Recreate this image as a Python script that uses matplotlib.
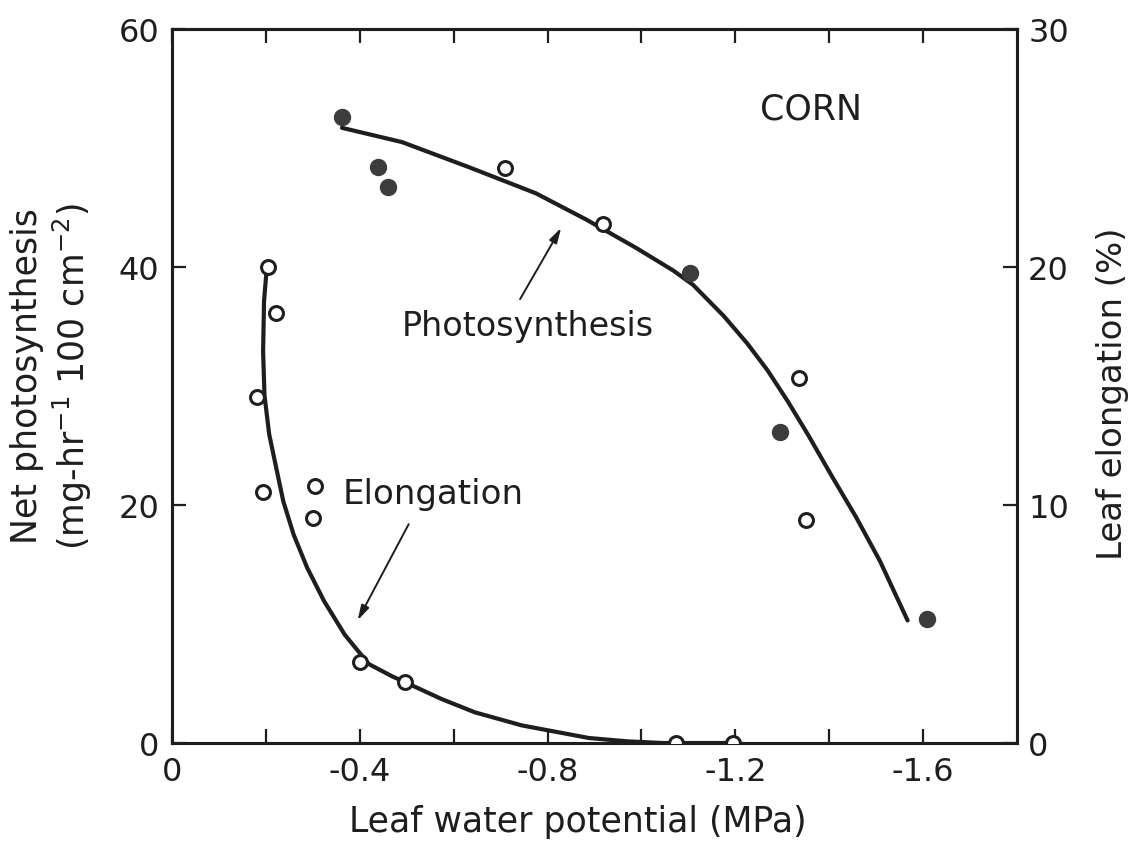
import matplotlib.pyplot as plt

plt.rcParams['font.family'] = ['DejaVu Sans']
plt.rcParams['axes.unicode_minus'] = False

# leaf water potential (MPa) vs net photosynthesis (left axis)
photo_filled_x = [-0.363, -0.439, -0.461, -1.103, -1.295, -1.609]
photo_filled_y = [52.6, 48.4, 46.7, 39.5, 26.1, 10.4]
photo_open_x = [-0.710, -0.919, -1.336, -1.351]
photo_open_y = [48.3, 43.6, 30.7, 18.7]
# fitted curve
photo_curve_x = [-0.362, -0.490, -0.632, -0.775, -0.882, -0.989, -1.068, -1.110,
                 -1.175, -1.225, -1.269, -1.312, -1.355, -1.406, -1.457, -1.508, -1.567]
photo_curve_y = [51.7, 50.5, 48.4, 46.2, 44.0, 41.6, 39.7, 38.5,
                 35.9, 33.6, 31.3, 28.7, 25.9, 22.4, 19.0, 15.3, 10.3]

# leaf elongation (%) (right axis)
elong_x = [-0.204, -0.221, -0.181, -0.194, -0.304, -0.301, -0.401, -0.497, -1.074, -1.196]
elong_y = [20.0, 18.05, 14.55, 10.55, 10.8, 9.45, 3.4, 2.57, 0.0, 0.0]
elong_curve_x = [-0.202, -0.196, -0.194, -0.197, -0.207, -0.222, -0.237, -0.259,
                 -0.288, -0.324, -0.368, -0.419, -0.469, -0.497, -0.574, -0.645,
                 -0.745, -0.888, -0.97, -1.044, -1.074, -1.196]
elong_curve_y = [20.0, 18.57, 16.45, 14.6, 12.97, 11.56, 10.16, 8.76,
                 7.36, 5.96, 4.55, 3.32, 2.8, 2.55, 1.85, 1.29,
                 0.74, 0.21, 0.07, 0.0, 0.0, 0.0]

xticks = [0, -0.4, -0.8, -1.2, -1.6]
xtick_labels = ['0', '-0.4', '-0.8', '-1.2', '-1.6']
xminor = [-0.2, -0.6, -1.0, -1.4]
left_ticks = [0, 20, 40, 60]
right_ticks = [0, 10, 20, 30]

ink = '#1e1e1e'
dot = '#3c3c3c'

fig = plt.figure(figsize=(11.34, 8.54), dpi=100)
ax = fig.add_axes([0.1517, 0.1288, 0.7451, 0.836])
ax2 = ax.twinx()

ax.plot(photo_curve_x, photo_curve_y, color=ink, lw=3.0, zorder=2,
        solid_capstyle='round', solid_joinstyle='round')
ax.plot(photo_filled_x, photo_filled_y, 'o', ms=11.5, color=dot, mec=dot, zorder=3)
ax.plot(photo_open_x, photo_open_y, 'o', ms=10, mfc='white', mec=ink, mew=2.2, zorder=3)

ax2.plot(elong_curve_x, elong_curve_y, color=ink, lw=3.0, zorder=2,
         solid_capstyle='round', solid_joinstyle='round')
ax2.plot(elong_x, elong_y, 'o', ms=10, mfc='white', mec=ink, mew=2.2, zorder=3)

ax.set_xlim(0, -1.8)
ax.set_ylim(0, 60)
ax2.set_ylim(0, 30)

ax.set_xticks(xticks)
ax.set_xticklabels(xtick_labels)
ax.set_xticks(xminor, minor=True)
ax.set_yticks(left_ticks)
ax2.set_yticks(right_ticks)

ax.tick_params(axis='both', which='both', direction='in', length=10, width=1.6,
               labelsize=23, pad=9, top=True, colors=ink)
ax2.tick_params(axis='y', direction='in', length=10, width=1.6, labelsize=23,
                pad=8, colors=ink)
for a in (ax, ax2):
    for s in a.spines.values():
        s.set_linewidth(2.2)
        s.set_color(ink)

ax.set_xlabel('Leaf water potential (MPa)', fontsize=25, labelpad=14, color=ink)
ax.xaxis.set_label_coords(0.48, -0.085)
ax.xaxis.label.set_va('top')
ax.set_ylabel('Net photosynthesis\n(mg-hr$^{-1}$ 100 cm$^{-2}$)', fontsize=25,
              color=ink, linespacing=1.2)
ax.yaxis.set_label_coords(-0.092, 0.515)
ax2.set_ylabel('Leaf elongation (%)', fontsize=24.5, color=ink)
ax2.yaxis.set_label_coords(1.094, 0.49)

ax.text(-1.362, 53.3, 'CORN', fontsize=25, ha='center', va='center', color=ink)
ax.text(-0.757, 35.1, 'Photosynthesis', fontsize=24, ha='center', va='center', color=ink)
ax.text(-0.557, 21.0, 'Elongation', fontsize=24.5, ha='center', va='center', color=ink)

arrow = dict(arrowstyle='-|>,head_length=0.9,head_width=0.25', color=ink, lw=1.4)
ax.annotate('', xy=(-0.832, 43.5), xytext=(-0.7385, 37.1), arrowprops=arrow)
ax.annotate('', xy=(-0.3926, 10.1), xytext=(-0.507, 18.6), arrowprops=arrow)

fig.savefig('out.png', dpi=100)
